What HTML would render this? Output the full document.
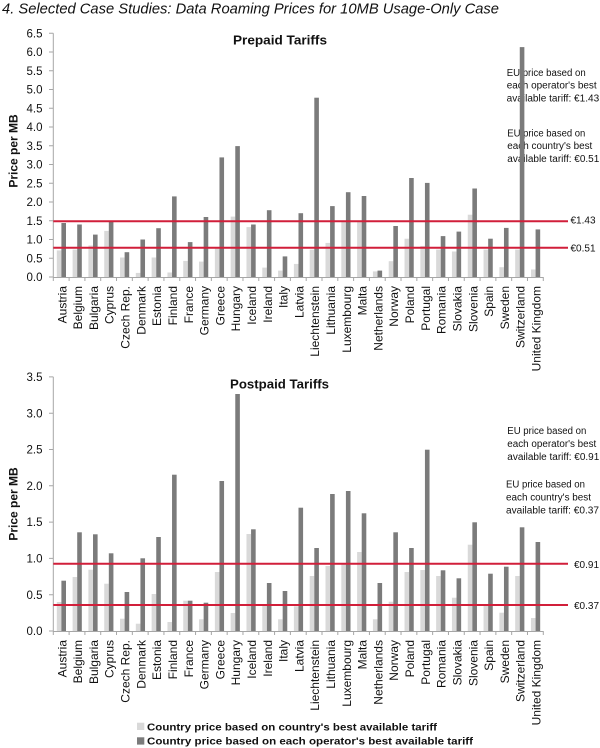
<!DOCTYPE html>
<html><head><meta charset="utf-8"><style>
html,body{margin:0;padding:0;background:#fff;}
svg{display:block;}
text{font-family:"Liberation Sans",Arial,sans-serif;fill:#111;}
.yt{font-size:11.5px;text-anchor:end;}
.cat{font-size:12px;text-anchor:end;}
.ann{font-size:10px;}
.lt{fill:#d9d9d9;}
.dk{fill:#7b7b7b;}
.ax{stroke:#a6a6a6;stroke-width:1;fill:none;}
.red{stroke:#d11f3a;stroke-width:2;}
</style></head><body>
<svg width="600" height="748" viewBox="0 0 600 748" xmlns="http://www.w3.org/2000/svg">
<rect x="0" y="0" width="600" height="748" fill="#fff"/>
<text x="2" y="13.5" font-size="15" font-style="italic" textLength="497" lengthAdjust="spacingAndGlyphs">4. Selected Case Studies: Data Roaming Prices for 10MB Usage-Only Case</text>

<!-- ============ CHART 1 ============ -->
<text x="233" y="44.5" font-size="13" font-weight="bold" textLength="94" lengthAdjust="spacingAndGlyphs">Prepaid Tariffs</text>
<text transform="translate(17.5,151) rotate(-90)" font-size="12" font-weight="bold" text-anchor="middle">Price per MB</text>
<g class="yt">
<text x="42.5" y="281.1">0.0</text><text x="42.5" y="262.4">0.5</text><text x="42.5" y="243.6">1.0</text>
<text x="42.5" y="224.9">1.5</text><text x="42.5" y="206.1">2.0</text><text x="42.5" y="187.4">2.5</text>
<text x="42.5" y="168.6">3.0</text><text x="42.5" y="149.9">3.5</text><text x="42.5" y="131.1">4.0</text>
<text x="42.5" y="112.4">4.5</text><text x="42.5" y="93.6">5.0</text><text x="42.5" y="74.9">5.5</text>
<text x="42.5" y="56.1">6.0</text><text x="42.5" y="37.4">6.5</text>
</g>
<!-- annotations -->
<g class="ann">
<text x="506.7" y="76" textLength="79" lengthAdjust="spacingAndGlyphs">EU price based on</text>
<text x="506.7" y="88.5" textLength="90" lengthAdjust="spacingAndGlyphs">each operator's best</text>
<text x="506.7" y="101.5" textLength="92.5" lengthAdjust="spacingAndGlyphs">available tariff: €1.43</text>
<text x="507.3" y="136.5" textLength="78" lengthAdjust="spacingAndGlyphs">EU price based on</text>
<text x="507.3" y="149" textLength="85" lengthAdjust="spacingAndGlyphs">each country's best</text>
<text x="507.3" y="162" textLength="92" lengthAdjust="spacingAndGlyphs">available tariff: €0.51</text>
</g>
<!-- bars light -->
<g class="lt">
<rect x="56.8" y="250.4" width="4.6" height="26.6"/>
<rect x="72.61" y="249.6" width="4.6" height="27.4"/>
<rect x="88.41" y="245.5" width="4.6" height="31.5"/>
<rect x="104.22" y="230.9" width="4.6" height="46.1"/>
<rect x="120.02" y="257.5" width="4.6" height="19.5"/>
<rect x="135.83" y="272.9" width="4.6" height="4.1"/>
<rect x="151.64" y="257.5" width="4.6" height="19.5"/>
<rect x="167.44" y="272.5" width="4.6" height="4.5"/>
<rect x="183.25" y="260.9" width="4.6" height="16.1"/>
<rect x="199.05" y="261.6" width="4.6" height="15.4"/>
<rect x="214.86" y="247.7" width="4.6" height="29.3"/>
<rect x="230.67" y="216.6" width="4.6" height="60.4"/>
<rect x="246.47" y="227.1" width="4.6" height="49.9"/>
<rect x="262.28" y="267.6" width="4.6" height="9.4"/>
<rect x="278.08" y="270.6" width="4.6" height="6.4"/>
<rect x="293.89" y="263.9" width="4.6" height="13.1"/>
<rect x="309.7" y="249.6" width="4.6" height="27.4"/>
<rect x="325.5" y="242.9" width="4.6" height="34.1"/>
<rect x="341.31" y="221.9" width="4.6" height="55.1"/>
<rect x="357.11" y="221.5" width="4.6" height="55.5"/>
<rect x="372.92" y="271.4" width="4.6" height="5.6"/>
<rect x="388.73" y="261.2" width="4.6" height="15.8"/>
<rect x="404.53" y="238.7" width="4.6" height="38.3"/>
<rect x="420.34" y="245.9" width="4.6" height="31.1"/>
<rect x="436.14" y="249.6" width="4.6" height="27.4"/>
<rect x="451.95" y="251.5" width="4.6" height="25.5"/>
<rect x="467.76" y="214.7" width="4.6" height="62.3"/>
<rect x="483.56" y="249.6" width="4.6" height="27.4"/>
<rect x="499.37" y="267.2" width="4.6" height="9.8"/>
<rect x="515.17" y="249.6" width="4.6" height="27.4"/>
<rect x="530.98" y="269.5" width="4.6" height="7.5"/>
</g>
<g class="dk">
<rect x="61.4" y="223" width="4.6" height="54"/>
<rect x="77.21" y="224.5" width="4.6" height="52.5"/>
<rect x="93.01" y="234.6" width="4.6" height="42.4"/>
<rect x="108.82" y="221.5" width="4.6" height="55.5"/>
<rect x="124.62" y="252.2" width="4.6" height="24.8"/>
<rect x="140.43" y="239.5" width="4.6" height="37.5"/>
<rect x="156.24" y="228.2" width="4.6" height="48.8"/>
<rect x="172.04" y="196.4" width="4.6" height="80.6"/>
<rect x="187.85" y="242.1" width="4.6" height="34.9"/>
<rect x="203.65" y="217" width="4.6" height="60"/>
<rect x="219.46" y="157.4" width="4.6" height="119.6"/>
<rect x="235.27" y="146.1" width="4.6" height="130.9"/>
<rect x="251.07" y="224.5" width="4.6" height="52.5"/>
<rect x="266.88" y="210.2" width="4.6" height="66.8"/>
<rect x="282.68" y="256.4" width="4.6" height="20.6"/>
<rect x="298.49" y="213.2" width="4.6" height="63.8"/>
<rect x="314.3" y="97.7" width="4.6" height="179.3"/>
<rect x="330.1" y="206.1" width="4.6" height="70.9"/>
<rect x="345.91" y="192.2" width="4.6" height="84.8"/>
<rect x="361.71" y="196" width="4.6" height="81"/>
<rect x="377.52" y="270.6" width="4.6" height="6.4"/>
<rect x="393.33" y="226" width="4.6" height="51"/>
<rect x="409.13" y="178" width="4.6" height="99"/>
<rect x="424.94" y="182.9" width="4.6" height="94.1"/>
<rect x="440.74" y="236.1" width="4.6" height="40.9"/>
<rect x="456.55" y="231.6" width="4.6" height="45.4"/>
<rect x="472.36" y="188.5" width="4.6" height="88.5"/>
<rect x="488.16" y="238.7" width="4.6" height="38.3"/>
<rect x="503.97" y="227.9" width="4.6" height="49.1"/>
<rect x="519.77" y="47.1" width="4.6" height="229.9"/>
<rect x="535.58" y="229.4" width="4.6" height="47.6"/>
</g>
<!-- axes -->
<path class="ax" d="M53.3,33.25V277.5M53.3,277.5H543.3
M49,277H53.3M49,258.25H53.3M49,239.5H53.3M49,220.75H53.3M49,202H53.3M49,183.25H53.3M49,164.5H53.3M49,145.75H53.3M49,127H53.3M49,108.25H53.3M49,89.5H53.3M49,70.75H53.3M49,52H53.3M49,33.25H53.3
M53.3,277V281M69.11,277V281M84.91,277V281M100.72,277V281M116.52,277V281M132.33,277V281M148.14,277V281M163.94,277V281M179.75,277V281M195.55,277V281M211.36,277V281M227.17,277V281M242.97,277V281M258.78,277V281M274.58,277V281M290.39,277V281M306.2,277V281M322,277V281M337.81,277V281M353.61,277V281M369.42,277V281M385.23,277V281M401.03,277V281M416.84,277V281M432.64,277V281M448.45,277V281M464.26,277V281M480.06,277V281M495.87,277V281M511.67,277V281M527.48,277V281M543.29,277V281"/>
<line class="red" x1="53.3" y1="221.2" x2="568" y2="221.2"/>
<line class="red" x1="53.3" y1="247.7" x2="568" y2="247.7"/>
<text class="ann" x="570.5" y="223.5">€1.43</text>
<text class="ann" x="570.5" y="251.5">€0.51</text>
<!-- category labels chart 1 -->
<g class="cat">
<text transform="translate(66.3,286) rotate(-90)">Austria</text>
<text transform="translate(82.11,286) rotate(-90)">Belgium</text>
<text transform="translate(97.91,286) rotate(-90)">Bulgaria</text>
<text transform="translate(113.72,286) rotate(-90)">Cyprus</text>
<text transform="translate(129.52,286) rotate(-90)">Czech Rep.</text>
<text transform="translate(145.33,286) rotate(-90)">Denmark</text>
<text transform="translate(161.14,286) rotate(-90)">Estonia</text>
<text transform="translate(176.94,286) rotate(-90)">Finland</text>
<text transform="translate(192.75,286) rotate(-90)">France</text>
<text transform="translate(208.55,286) rotate(-90)">Germany</text>
<text transform="translate(224.36,286) rotate(-90)">Greece</text>
<text transform="translate(240.17,286) rotate(-90)">Hungary</text>
<text transform="translate(255.97,286) rotate(-90)">Iceland</text>
<text transform="translate(271.78,286) rotate(-90)">Ireland</text>
<text transform="translate(287.58,286) rotate(-90)">Italy</text>
<text transform="translate(303.39,286) rotate(-90)">Latvia</text>
<text transform="translate(319.2,286) rotate(-90)">Liechtenstein</text>
<text transform="translate(335,286) rotate(-90)">Lithuania</text>
<text transform="translate(350.81,286) rotate(-90)">Luxembourg</text>
<text transform="translate(366.61,286) rotate(-90)">Malta</text>
<text transform="translate(382.42,286) rotate(-90)">Netherlands</text>
<text transform="translate(398.23,286) rotate(-90)">Norway</text>
<text transform="translate(414.03,286) rotate(-90)">Poland</text>
<text transform="translate(429.84,286) rotate(-90)">Portugal</text>
<text transform="translate(445.64,286) rotate(-90)">Romania</text>
<text transform="translate(461.45,286) rotate(-90)">Slovakia</text>
<text transform="translate(477.26,286) rotate(-90)">Slovenia</text>
<text transform="translate(493.06,286) rotate(-90)">Spain</text>
<text transform="translate(508.87,286) rotate(-90)">Sweden</text>
<text transform="translate(524.67,286) rotate(-90)">Switzerland</text>
<text transform="translate(540.48,286) rotate(-90)">United Kingdom</text>
</g>

<!-- ============ CHART 2 ============ -->
<text x="230" y="388.5" font-size="13" font-weight="bold" textLength="99" lengthAdjust="spacingAndGlyphs">Postpaid Tariffs</text>
<text transform="translate(17.5,504) rotate(-90)" font-size="12" font-weight="bold" text-anchor="middle">Price per MB</text>
<g class="yt">
<text x="42.5" y="635.1">0.0</text><text x="42.5" y="598.8">0.5</text><text x="42.5" y="562.5">1.0</text>
<text x="42.5" y="526.2">1.5</text><text x="42.5" y="489.9">2.0</text><text x="42.5" y="453.6">2.5</text>
<text x="42.5" y="417.3">3.0</text><text x="42.5" y="381">3.5</text>
</g>
<g class="ann">
<text x="507.3" y="434" textLength="79" lengthAdjust="spacingAndGlyphs">EU price based on</text>
<text x="507.3" y="447" textLength="89" lengthAdjust="spacingAndGlyphs">each operator's best</text>
<text x="507.3" y="460" textLength="92" lengthAdjust="spacingAndGlyphs">available tariff: €0.91</text>
<text x="506" y="487.3" textLength="79" lengthAdjust="spacingAndGlyphs">EU price based on</text>
<text x="506" y="500.3" textLength="85" lengthAdjust="spacingAndGlyphs">each country's best</text>
<text x="506" y="513.3" textLength="93" lengthAdjust="spacingAndGlyphs">available tariff: €0.37</text>
</g>
<g class="lt">
<rect x="56.8" y="602" width="4.6" height="29"/>
<rect x="72.61" y="577" width="4.6" height="54"/>
<rect x="88.41" y="569.7" width="4.6" height="61.3"/>
<rect x="104.22" y="583.7" width="4.6" height="47.3"/>
<rect x="120.02" y="618.7" width="4.6" height="12.3"/>
<rect x="135.83" y="623.7" width="4.6" height="7.3"/>
<rect x="151.64" y="594" width="4.6" height="37"/>
<rect x="167.44" y="622" width="4.6" height="9"/>
<rect x="183.25" y="600.7" width="4.6" height="30.3"/>
<rect x="199.05" y="619.3" width="4.6" height="11.7"/>
<rect x="214.86" y="572" width="4.6" height="59"/>
<rect x="230.67" y="613" width="4.6" height="18"/>
<rect x="246.47" y="534" width="4.6" height="97"/>
<rect x="262.28" y="605.3" width="4.6" height="25.7"/>
<rect x="278.08" y="619.3" width="4.6" height="11.7"/>
<rect x="293.89" y="606.3" width="4.6" height="24.7"/>
<rect x="309.7" y="576" width="4.6" height="55"/>
<rect x="325.5" y="566" width="4.6" height="65"/>
<rect x="341.31" y="564.3" width="4.6" height="66.7"/>
<rect x="357.11" y="552" width="4.6" height="79"/>
<rect x="372.92" y="619.3" width="4.6" height="11.7"/>
<rect x="388.73" y="601.7" width="4.6" height="29.3"/>
<rect x="404.53" y="572" width="4.6" height="59"/>
<rect x="420.34" y="570" width="4.6" height="61"/>
<rect x="436.14" y="576" width="4.6" height="55"/>
<rect x="451.95" y="597.7" width="4.6" height="33.3"/>
<rect x="467.76" y="544.7" width="4.6" height="86.3"/>
<rect x="483.56" y="605.3" width="4.6" height="25.7"/>
<rect x="499.37" y="612.7" width="4.6" height="18.3"/>
<rect x="515.17" y="576" width="4.6" height="55"/>
<rect x="530.98" y="618" width="4.6" height="13"/>
</g>
<g class="dk">
<rect x="61.4" y="580.7" width="4.6" height="50.3"/>
<rect x="77.21" y="532.3" width="4.6" height="98.7"/>
<rect x="93.01" y="534.3" width="4.6" height="96.7"/>
<rect x="108.82" y="553.3" width="4.6" height="77.7"/>
<rect x="124.62" y="592" width="4.6" height="39"/>
<rect x="140.43" y="558.3" width="4.6" height="72.7"/>
<rect x="156.24" y="537" width="4.6" height="94"/>
<rect x="172.04" y="474.7" width="4.6" height="156.3"/>
<rect x="187.85" y="600.7" width="4.6" height="30.3"/>
<rect x="203.65" y="602.7" width="4.6" height="28.3"/>
<rect x="219.46" y="481" width="4.6" height="150"/>
<rect x="235.27" y="394" width="4.6" height="237"/>
<rect x="251.07" y="529.3" width="4.6" height="101.7"/>
<rect x="266.88" y="583" width="4.6" height="48"/>
<rect x="282.68" y="591" width="4.6" height="40"/>
<rect x="298.49" y="507.7" width="4.6" height="123.3"/>
<rect x="314.3" y="548" width="4.6" height="83"/>
<rect x="330.1" y="494" width="4.6" height="137"/>
<rect x="345.91" y="491" width="4.6" height="140"/>
<rect x="361.71" y="513.3" width="4.6" height="117.7"/>
<rect x="377.52" y="583" width="4.6" height="48"/>
<rect x="393.33" y="532.3" width="4.6" height="98.7"/>
<rect x="409.13" y="548" width="4.6" height="83"/>
<rect x="424.94" y="449.7" width="4.6" height="181.3"/>
<rect x="440.74" y="570.3" width="4.6" height="60.7"/>
<rect x="456.55" y="578.3" width="4.6" height="52.7"/>
<rect x="472.36" y="522.3" width="4.6" height="108.7"/>
<rect x="488.16" y="573.7" width="4.6" height="57.3"/>
<rect x="503.97" y="566.7" width="4.6" height="64.3"/>
<rect x="519.77" y="527.3" width="4.6" height="103.7"/>
<rect x="535.58" y="542" width="4.6" height="89"/>
</g>
<path class="ax" d="M53.3,376.9V631.5M53.3,631.5H543.3
M49,631H53.3M49,594.7H53.3M49,558.4H53.3M49,522.1H53.3M49,485.8H53.3M49,449.5H53.3M49,413.2H53.3M49,376.9H53.3
M53.3,631V635M69.11,631V635M84.91,631V635M100.72,631V635M116.52,631V635M132.33,631V635M148.14,631V635M163.94,631V635M179.75,631V635M195.55,631V635M211.36,631V635M227.17,631V635M242.97,631V635M258.78,631V635M274.58,631V635M290.39,631V635M306.2,631V635M322,631V635M337.81,631V635M353.61,631V635M369.42,631V635M385.23,631V635M401.03,631V635M416.84,631V635M432.64,631V635M448.45,631V635M464.26,631V635M480.06,631V635M495.87,631V635M511.67,631V635M527.48,631V635M543.29,631V635"/>
<line class="red" x1="53.3" y1="563.7" x2="568" y2="563.7"/>
<line class="red" x1="53.3" y1="605" x2="568" y2="605"/>
<text class="ann" x="574" y="568">€0.91</text>
<text class="ann" x="574" y="609">€0.37</text>
<g class="cat">
<text transform="translate(66.3,640) rotate(-90)">Austria</text>
<text transform="translate(82.11,640) rotate(-90)">Belgium</text>
<text transform="translate(97.91,640) rotate(-90)">Bulgaria</text>
<text transform="translate(113.72,640) rotate(-90)">Cyprus</text>
<text transform="translate(129.52,640) rotate(-90)">Czech Rep.</text>
<text transform="translate(145.33,640) rotate(-90)">Denmark</text>
<text transform="translate(161.14,640) rotate(-90)">Estonia</text>
<text transform="translate(176.94,640) rotate(-90)">Finland</text>
<text transform="translate(192.75,640) rotate(-90)">France</text>
<text transform="translate(208.55,640) rotate(-90)">Germany</text>
<text transform="translate(224.36,640) rotate(-90)">Greece</text>
<text transform="translate(240.17,640) rotate(-90)">Hungary</text>
<text transform="translate(255.97,640) rotate(-90)">Iceland</text>
<text transform="translate(271.78,640) rotate(-90)">Ireland</text>
<text transform="translate(287.58,640) rotate(-90)">Italy</text>
<text transform="translate(303.39,640) rotate(-90)">Latvia</text>
<text transform="translate(319.2,640) rotate(-90)">Liechtenstein</text>
<text transform="translate(335,640) rotate(-90)">Lithuania</text>
<text transform="translate(350.81,640) rotate(-90)">Luxembourg</text>
<text transform="translate(366.61,640) rotate(-90)">Malta</text>
<text transform="translate(382.42,640) rotate(-90)">Netherlands</text>
<text transform="translate(398.23,640) rotate(-90)">Norway</text>
<text transform="translate(414.03,640) rotate(-90)">Poland</text>
<text transform="translate(429.84,640) rotate(-90)">Portugal</text>
<text transform="translate(445.64,640) rotate(-90)">Romania</text>
<text transform="translate(461.45,640) rotate(-90)">Slovakia</text>
<text transform="translate(477.26,640) rotate(-90)">Slovenia</text>
<text transform="translate(493.06,640) rotate(-90)">Spain</text>
<text transform="translate(508.87,640) rotate(-90)">Sweden</text>
<text transform="translate(524.67,640) rotate(-90)">Switzerland</text>
<text transform="translate(540.48,640) rotate(-90)">United Kingdom</text>
</g>

<!-- legend -->
<rect x="137" y="722.7" width="7.3" height="7.3" fill="#d9d9d9"/>
<text x="147" y="730.5" font-size="10.5" font-weight="bold" textLength="290" lengthAdjust="spacingAndGlyphs">Country price based on country's best available tariff</text>
<rect x="137" y="737.3" width="7.3" height="7.3" fill="#7b7b7b"/>
<text x="147" y="744.7" font-size="10.5" font-weight="bold" textLength="326" lengthAdjust="spacingAndGlyphs">Country price based on each operator's best available tariff</text>
</svg>
</body></html>
